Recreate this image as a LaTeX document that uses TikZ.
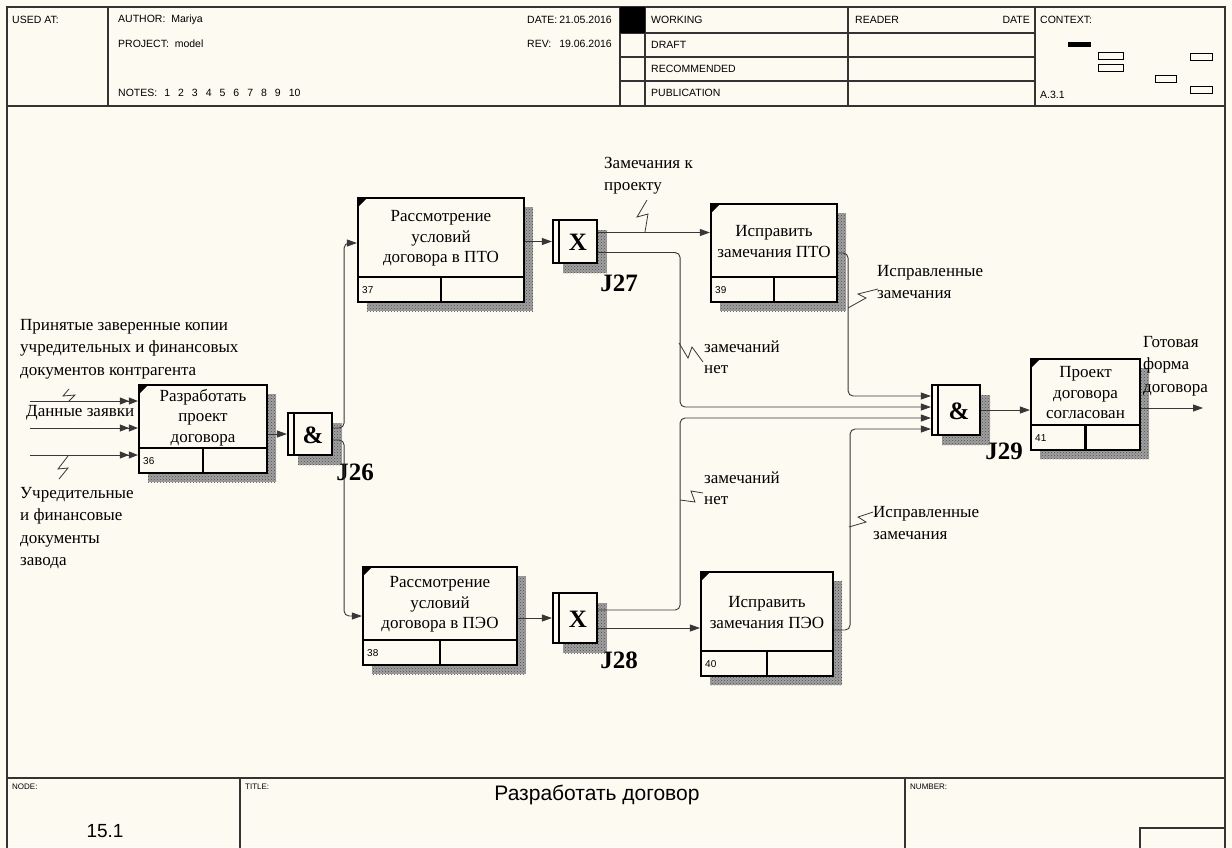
\documentclass[tikz,border=0pt]{standalone}
\usepackage{fontspec}
\setmainfont{Liberation Serif}
\newfontfamily\hdrfont{Liberation Sans}
\usetikzlibrary{arrows.meta,calc,fit,patterns}

\definecolor{paper}{RGB}{252,250,241}
\definecolor{inkgray}{RGB}{55,55,55}
\definecolor{shadegray}{RGB}{160,160,160}

\tikzset{
  frame/.style={draw=black!80, line width=1.2pt},
  uob/.style={draw=black, line width=2.2pt, fill=paper, inner sep=0pt},
  shadow/.style={fill=shadegray, postaction={pattern=crosshatch dots, pattern color=black!70}},
  link/.style={draw=inkgray, line width=0.9pt, rounded corners=5pt, -{Triangle[length=10pt,width=7pt]}},
  feed/.style={draw=inkgray, line width=0.9pt, -{Triangle[length=9pt,width=7pt] Triangle[length=9pt,width=7pt]}},
  squig/.style={draw=inkgray, line width=0.8pt},
  lbl/.style={font=\fontsize{17}{22.5}\selectfont, align=left, anchor=west, inner sep=0pt},
  boxtxt/.style={font=\fontsize{17}{20.5}\selectfont, align=center, inner sep=0pt},
  numtxt/.style={font=\hdrfont\fontsize{10}{12}\selectfont, anchor=west, inner sep=0pt},
  jsym/.style={font=\fontsize{25}{25}\selectfont\bfseries, inner sep=0pt},
  hdr/.style={font=\hdrfont\fontsize{10.5}{12}\selectfont, anchor=west, inner sep=0pt},
  tiny/.style={font=\hdrfont\fontsize{8}{10}\selectfont, anchor=west, inner sep=0pt}
}

\begin{document}
\begin{tikzpicture}[x=1pt,y=-1pt]
  \useasboundingbox (0,0) rectangle (1232,847);
  \fill[paper] (0,0) rectangle (1232,847);

  % sheet frame, header and footer
  \draw[frame] (7,7) rectangle (1225,860);
  \draw[frame] (7,106) -- (1225,106);
  \foreach \x in {108,620,645,848,1035}
    \draw[frame] (\x,7) -- (\x,106);
  \foreach \y in {33,57,81}
    \draw[frame] (620,\y) -- (1035,\y);
  \fill (620,7) rectangle (645,33);
  \draw[frame] (7,778) -- (1225,778) (240,778) -- (240,860) (905,778) -- (905,860);
  \draw[frame] (1140,860) |- (1225,828);

  \node[hdr] (usedat) at (12,20) {USED AT:};
  \node[hdr] (author) at (118,20) {AUTHOR:\ \ Mariya};
  \node[hdr] (project) at (118,44) {PROJECT:\ \ model};
  \node[hdr] (notes) at (118,93) {NOTES:\hspace{7pt}1\hspace{8pt}2\hspace{8pt}3\hspace{8pt}4\hspace{8pt}5\hspace{8pt}6\hspace{8pt}7\hspace{8pt}8\hspace{8pt}9\hspace{8pt}10};
  \node[hdr] (date) at (527,20) {DATE:};
  \node[hdr, anchor=east] (dateval) at (612,20) {21.05.2016};
  \node[hdr] (rev) at (527,44) {REV:};
  \node[hdr, anchor=east] (revval) at (612,44) {19.06.2016};
  \node[hdr] (working) at (651,20) {WORKING};
  \node[hdr] (draft) at (651,45) {DRAFT};
  \node[hdr] (recomm) at (651,69) {RECOMMENDED};
  \node[hdr] (public) at (651,93) {PUBLICATION};
  \node[hdr] (reader) at (855,20) {READER};
  \node[hdr, anchor=east] (rdate) at (1030,20) {DATE};
  \node[hdr] (context) at (1040,20) {CONTEXT:};
  \node[hdr] (ctxnode) at (1040,95) {A.3.1};

  % context thumbnail
  \fill (1068,42) rectangle (1091,47);
  \foreach \xa/\ya/\w in {1098/52/25,1098/64/25,1190/53/22,1155/75/21,1190/86/22}
    \draw[line width=0.8pt] (\xa,\ya) rectangle ++(\w,7);

  \node[tiny] (nodelbl) at (12,787) {NODE:};
  \node[tiny] (titlelbl) at (245,787) {TITLE:};
  \node[tiny] (numberlbl) at (910,787) {NUMBER:};
  \node[font=\hdrfont\fontsize{21}{24}\selectfont, inner sep=0pt] (title) at (597,795) {Разработать договор};
  \node[font=\hdrfont\fontsize{19}{22}\selectfont, inner sep=0pt] (nodenum) at (105,831) {15.1};

  % units of behaviour
  \foreach \nm/\xa/\ya/\xb/\yb/\num/\txt in {
      bA/139/385/267/473/36/{Разработать\\проект\\договора},
      b37/358/198/524/302/37/{Рассмотрение\\условий\\договора в ПТО},
      b38/363/567/517/665/38/{Рассмотрение\\условий\\договора в ПЭО},
      b39/711/204/837/302/39/{Исправить\\замечания ПТО},
      b40/701/572/833/676/40/{Исправить\\замечания ПЭО},
      b41/1031/359/1140/450/41/{Проект\\договора\\согласован}}{
    \path[shadow] ({\xa+9},{\ya+9}) rectangle ({\xb+9},{\yb+9});
    \node[uob, fit={(\xa,\ya) (\xb,\yb)}] (\nm) {};
    \draw[line width=2.2pt] (\xa,{\yb-25}) -- (\xb,{\yb-25})
      ({(\xa+\xb)/2},{\yb-25}) -- ({(\xa+\xb)/2},\yb);
    \fill (\xa,\ya) -- ({\xa+9},\ya) -- (\xa,{\ya+9}) -- cycle;
    \node[boxtxt] (\nm-t) at ({(\xa+\xb)/2},{(\ya+\yb-25)/2+1}) {\txt};
    \node[numtxt] (\nm-n) at ({\xa+4},{\yb-12}) {\num};
  }

  % junctions
  \foreach \nm/\xa/\ya/\xb/\yb/\sym in {
      j26/288/413/332/455/\&, j27/553/220/597/263/X,
      j28/553/593/597/643/X, j29/932/385/980/435/\&}{
    \path[shadow] ({\xa+10},{\ya+10}) rectangle ({\xb+10},{\yb+10});
    \node[uob, fit={(\xa,\ya) (\xb,\yb)}] (\nm) {};
    \draw[line width=1.8pt] ({\xa+6},\ya) -- ({\xa+6},\yb);
    \node[jsym] (\nm-s) at ({(\xa+6+\xb)/2},{(\ya+\yb)/2+1}) {\sym};
  }
  \node[jsym] (j26-l) at (355,472) {J26};
  \node[jsym] (j27-l) at (619,283) {J27};
  \node[jsym] (j28-l) at (619,660) {J28};
  \node[jsym] (j29-l) at (1004,451) {J29};

  % exits and entries on the junctions
  \coordinate (j26a) at ([yshift=6pt]j26.east);
  \coordinate (j26b) at ([yshift=-6pt]j26.east);
  \coordinate (j27a) at ([yshift=9pt]j27.east);
  \coordinate (j27b) at ([yshift=-11pt]j27.east);
  \coordinate (j28a) at ([yshift=8pt]j28.east);
  \coordinate (j28b) at ([yshift=-10pt]j28.east);
  \coordinate (j29i1) at ([yshift=14pt]j29.west);
  \coordinate (j29i2) at ([yshift=3pt]j29.west);
  \coordinate (j29i3) at ([yshift=-8pt]j29.west);
  \coordinate (j29i4) at ([yshift=-19pt]j29.west);
  \coordinate (b40o) at ([yshift=-6pt]b40.east);
  \coordinate (srcA1) at (30,401);
  \coordinate (srcA2) at (30,428);
  \coordinate (srcA3) at (30,455);
  \coordinate (outF) at (1203,408);

  % links
  \foreach \s in {srcA1,srcA2,srcA3}
    \draw[feed] (\s) -- (\s -| bA.west);
  \draw[link] (j26.west -| bA.east) -- (j26.west);
  \draw[link] (j26a) -- ++(11,0) |- ([yshift=7pt]b37.west);
  \draw[link] (j26b) -- ++(11,0) |- (b38.west);
  \draw[link] (j27.west -| b37.east) -- (j27.west);
  \draw[link] (j28.west -| b38.east) -- (j28.west);
  \draw[link] (j27a) -- (j27a -| b39.west);
  \draw[link] (j28b) -- (j28b -| b40.west);
  \draw[link] (j27b) -- ++(82,0) |- (j29i2);
  \draw[link] (j28a) -- ++(82,0) |- (j29i3);
  \draw[link] (b39.east) -- ++(10,0) |- (j29i1);
  \draw[link] (b40o) -- ++(16,0) |- (j29i4);
  \draw[link] (j29.east) -- (j29.east -| b41.west);
  \draw[link] (outF -| b41.east) -- (outF);

  % arrow labels
  \node[lbl] (lcopies) at (20,349) {Принятые заверенные копии\\учредительных и финансовых\\документов контрагента};
  \node[lbl] (lrequest) at (26,413) {Данные заявки};
  \node[lbl] (lfounding) at (20,528) {Учредительные\\и финансовые\\документы\\завода};
  \node[lbl, font=\fontsize{17}{22}\selectfont] (lremarks) at (604,176) {Замечания к\\проекту};
  \node[lbl, font=\fontsize{17}{21}\selectfont] (lnone1) at (704,357) {замечаний\\нет};
  \node[lbl, font=\fontsize{17}{22}\selectfont] (lfixed1) at (877,282) {Исправленные\\замечания};
  \node[lbl, font=\fontsize{17}{21}\selectfont] (lnone2) at (704,488) {замечаний\\нет};
  \node[lbl, font=\fontsize{17}{22}\selectfont] (lfixed2) at (873,523) {Исправленные\\замечания};
  \node[lbl] (lready) at (1143,366) {Готовая\\форма\\договора};

  % squiggles
  \draw[squig] (69,401) -- ++(6,-6) -- ++(-12,1) -- ++(6,-7);
  \draw[squig] (68,456) -- ++(-10,13) -- ++(10,-1) -- ++(-9,11);
  \draw[squig] (645,232) -- ++(3,-18) -- ++(-11,3) -- ++(10,-17);
  \draw[squig] (679,343) -- ++(9,15) -- ++(4,-11) -- ++(11,15);
  \draw[squig] (848,308) -- ++(18,-10) -- ++(-8,-4) -- ++(20,-5);
  \draw[squig] (680,500) -- ++(15,2) -- ++(-4,-11) -- ++(12,2);
  \draw[squig] (849,527) -- ++(17,-5) -- ++(-8,-5) -- ++(15,-5);
\end{tikzpicture}
\end{document}
